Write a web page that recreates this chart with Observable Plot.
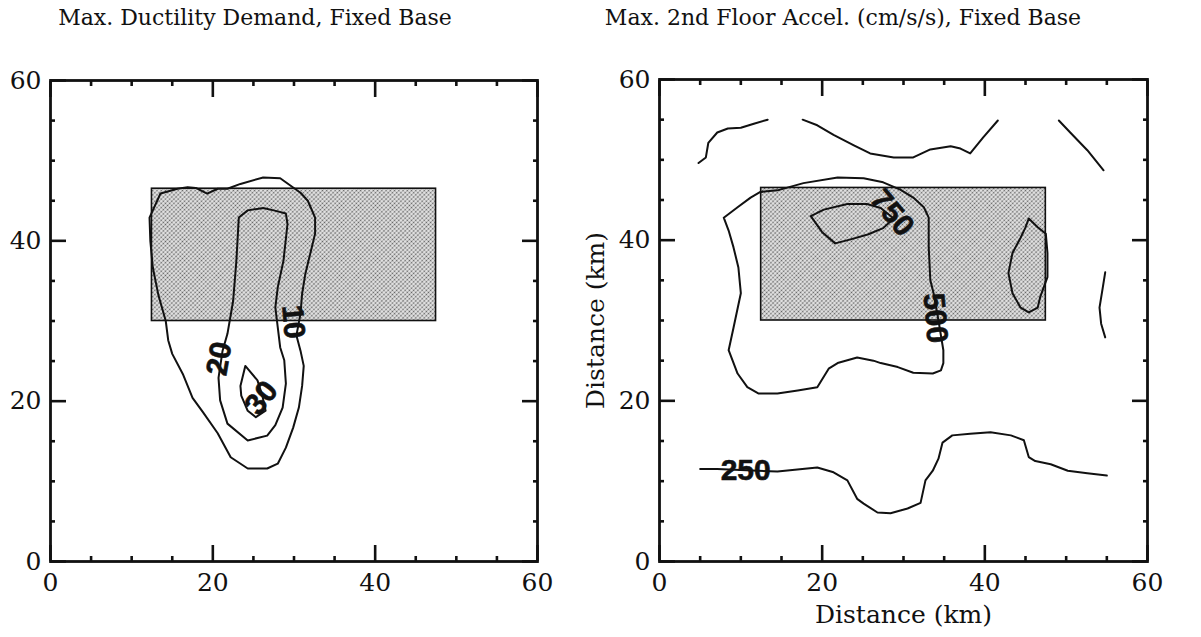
<!DOCTYPE html>
<html><head><meta charset="utf-8">
<script src="https://cdn.jsdelivr.net/npm/d3@7"></script>
<script src="https://cdn.jsdelivr.net/npm/@observablehq/plot@0.6"></script>
<style>
body{margin:0;background:#fff;width:1201px;height:637px;overflow:hidden;position:relative;font-family:"DejaVu Serif",serif;color:#111;}
.title{position:absolute;font-size:22px;white-space:nowrap;transform:translateX(-50%);line-height:1;}
.panel{position:absolute;}
</style></head><body>
<svg width="0" height="0" style="position:absolute"><defs>
<pattern id="stipple" width="3" height="3" patternUnits="userSpaceOnUse" patternTransform="rotate(45)">
<rect width="3" height="3" fill="#e8e8e8"/><circle cx="1.5" cy="1.5" r="0.88" fill="#606060"/></pattern></defs></svg>
<div class="title" style="left:255px;top:7px">Max. Ductility Demand, Fixed Base</div>
<div class="title" style="left:843px;top:7px">Max. 2nd Floor Accel. (cm/s/s), Fixed Base</div>
<div id="left" class="panel" style="left:0;top:40px"></div>
<div id="right" class="panel" style="left:580px;top:40px"></div>
<script>
// ---- axis ticks (km) ----
const majorTicks = [0, 20, 40, 60];
const minorTicks = [5, 10, 15, 25, 30, 35, 45, 50, 55];
const axisTitle = "Distance (km)";

// ---- shaded source area (km) ----
const rectX = [12.5, 47.5];
const rectY = [30, 46.5];

// ---- left panel: ductility demand contours ----
const ductility10 = [[12.2,42.9],[13.55,45.9],[15.65,46.5],[16.9,46.7],[17.9,46.6],[19.3,45.9],[20.6,46.5],[21.8,46.5],[23.4,47.1],[26.2,47.9],[28.3,47.8],[30.8,46.0],[31.7,45.0],[32.6,42.9],[32.6,40.9],[32.0,38.4],[31.4,35.9],[31.0,33.4],[30.8,30.9],[30.3,28.2],[30.8,26.3],[31.2,24.4],[31.0,21.9],[30.6,19.2],[29.9,16.7],[29.0,14.2],[28.0,12.2],[26.7,11.6],[24.3,11.6],[22.2,13.0],[20.6,16.0],[18.8,18.6],[17.5,20.4],[16.3,23.4],[15.0,25.9],[14.5,27.6],[14.2,30.0],[13.3,33.2],[12.6,36.7],[12.3,40.0]];
const ductility20 = [[23.2,42.9],[24.3,43.8],[26.2,44.1],[27.5,43.8],[29.0,43.4],[29.2,42.1],[28.7,37.5],[28.0,34.2],[27.7,31.7],[28.0,29.2],[28.3,26.7],[28.8,25.1],[29.0,22.2],[28.6,19.2],[27.7,17.0],[26.7,15.7],[24.3,15.1],[21.8,17.2],[20.9,20.1],[20.7,22.9],[21.2,26.3],[21.8,28.4],[22.5,32.5],[22.9,37.5]];
const ductility30 = [[24.0,24.4],[25.5,22.6],[26.1,20.7],[26.5,18.8],[25.3,18.0],[24.3,18.8],[23.5,20.7],[23.4,21.9]];
const ductLabelText = ["10", "20", "30"];
const ductLabelX = [29.9, 20.8, 26.0];
const ductLabelY = [29.9, 25.3, 20.4];
const ductLabelAngle = [85, -80, -52];

// ---- right panel: 2nd floor acceleration contours ----
const accelTopLeft = [[4.8,49.6],[5.7,50.3],[6.0,52.1],[7.1,53.4],[8.4,53.9],[10.0,54.0],[11.6,54.5],[13.3,55.0]];
const accelTopMid = [[17.6,55.0],[19.4,54.3],[21.4,53.1],[23.9,51.8],[25.9,50.8],[28.8,50.3],[31.2,50.3],[33.3,51.3],[35.8,51.7],[37.0,51.4],[38.2,50.8],[39.8,52.8],[41.6,54.9]];
const accelTopRight = [[49.1,54.9],[50.5,53.4],[52.6,51.2],[54.6,48.7]];
const accelRightEdge = [[54.8,36.0],[54.5,34.1],[54.1,31.6],[54.3,29.6],[54.8,27.9]];
const accel500 = [[7.9,42.8],[9.6,44.1],[11.2,45.3],[12.4,46.0],[14.5,46.2],[17.7,47.1],[21.9,47.8],[25.1,47.7],[27.5,47.2],[29.6,46.3],[31.2,45.3],[32.5,44.1],[33.1,42.8],[33.1,39.1],[33.3,35.0],[33.7,33.4],[34.3,30.0],[34.9,26.3],[34.9,24.7],[34.6,23.8],[33.6,23.4],[31.2,23.5],[29.3,24.2],[27.2,24.7],[26.3,25.0],[24.3,25.4],[21.9,24.7],[20.8,24.0],[19.4,21.7],[17.0,21.3],[14.5,20.9],[12.2,20.9],[10.8,21.7],[9.6,23.4],[8.5,26.3],[9.1,29.1],[10.0,33.4],[9.7,36.6],[9.1,39.1],[8.5,41.2]];
const accel750 = [[18.6,43.0],[20.2,43.8],[23.1,44.5],[25.5,44.5],[27.2,44.0],[28.8,42.7],[27.5,41.5],[25.6,40.7],[23.5,40.1],[21.6,39.6],[20.0,41.0]];
const accelRightLoop = [[45.4,42.7],[46.5,41.6],[47.5,40.8],[47.7,38.4],[47.7,35.4],[46.8,32.9],[46.5,31.6],[45.4,31.0],[44.4,31.6],[43.4,33.4],[42.9,35.9],[43.4,38.4],[44.4,40.3],[45.0,41.6]];
const accelBottom250 = [[5.0,11.5],[7.1,11.5],[14.5,11.2],[19.4,11.7],[21.4,11.1],[23.1,10.1],[24.3,7.8],[25.1,7.2],[26.8,6.1],[28.4,6.0],[30.5,6.6],[32.1,7.3],[32.7,10.1],[33.6,11.3],[34.3,12.8],[34.8,14.8],[36.0,15.7],[38.2,15.9],[40.7,16.1],[43.2,15.7],[44.8,15.1],[45.4,13.0],[46.2,12.5],[48.1,12.1],[50.2,11.3],[52.6,11.0],[55.0,10.7]];
const accelLabelText = ["750", "500", "250"];
const accelLabelX = [28.6, 33.9, 10.6];
const accelLabelY = [43.4, 30.3, 11.3];
const accelLabelAngle = [50, 85, 0];

// ---- helpers ----
const areaTable = [{x1: rectX[0], x2: rectX[1], y1: rectY[0], y2: rectY[1]}];
const labelTable = (t, xs, ys, as) => t.map((s, i) => ({text: s, x: xs[i], y: ys[i], a: as[i]}));
const lineOpts = {x: d => d[0], y: d => d[1], stroke: "#111", strokeWidth: 2};

function frameMarks() {
  const m = [];
  for (const anchor of ["bottom", "top"]) {
    m.push(Plot.axisX(majorTicks, {anchor, tickSize: -16, fill: "none", strokeWidth: 2.6, label: null}));
    m.push(Plot.axisX(minorTicks, {anchor, tickSize: -5, fill: "none", strokeWidth: 2.6, label: null}));
  }
  for (const anchor of ["left", "right"]) {
    m.push(Plot.axisY(majorTicks, {anchor, tickSize: -16, fill: "none", strokeWidth: 2.6, label: null}));
    m.push(Plot.axisY(minorTicks, {anchor, tickSize: -5, fill: "none", strokeWidth: 2.6, label: null}));
  }
  m.push(Plot.axisX(majorTicks, {anchor: "bottom", tickSize: 0, tickPadding: 12, label: null, fill: "#111"}));
  m.push(Plot.axisY(majorTicks, {anchor: "left", tickSize: 0, tickPadding: 9, label: null, fill: "#111"}));
  m.push(Plot.frame({stroke: "#111", strokeWidth: 2.8}));
  return m;
}

const common = {
  x: {domain: [0, 60]},
  y: {domain: [0, 60]},
  style: {fontFamily: "DejaVu Serif", fontSize: "25px", background: "transparent", color: "#111", overflow: "visible"}
};

const labelFont = {fontFamily: "Liberation Sans", fontWeight: "bold", fontSize: 30, fill: "#111", stroke: "#111", strokeWidth: 0.6, letterSpacing: 2.5};

const left = Plot.plot({
  ...common,
  width: 580, height: 570,
  marginLeft: 50, marginRight: 43, marginTop: 40, marginBottom: 49,
  marks: [
    Plot.rect(areaTable, {x1: "x1", x2: "x2", y1: "y1", y2: "y2", fill: "url(#stipple)", stroke: "#111", strokeWidth: 1.6}),
    Plot.line(ductility10, {...lineOpts, curve: "linear-closed"}),
    Plot.line(ductility20, {...lineOpts, curve: "linear-closed"}),
    Plot.line(ductility30, {...lineOpts, curve: "linear-closed"}),
    Plot.text(labelTable(ductLabelText, ductLabelX, ductLabelY, ductLabelAngle), {x: "x", y: "y", text: "text", rotate: "a", ...labelFont}),
    ...frameMarks()
  ]
});
document.getElementById("left").appendChild(left);

const right = Plot.plot({
  ...common,
  width: 621, height: 597,
  marginLeft: 79, marginRight: 54, marginTop: 39, marginBottom: 76,
  marks: [
    Plot.rect(areaTable, {x1: "x1", x2: "x2", y1: "y1", y2: "y2", fill: "url(#stipple)", stroke: "#111", strokeWidth: 1.6}),
    Plot.line(accelTopLeft, lineOpts),
    Plot.line(accelTopMid, lineOpts),
    Plot.line(accelTopRight, lineOpts),
    Plot.line(accelRightEdge, lineOpts),
    Plot.line(accel500, {...lineOpts, curve: "linear-closed"}),
    Plot.line(accel750, {...lineOpts, curve: "linear-closed"}),
    Plot.line(accelRightLoop, {...lineOpts, curve: "linear-closed"}),
    Plot.line(accelBottom250, lineOpts),
    Plot.text(labelTable(accelLabelText, accelLabelX, accelLabelY, accelLabelAngle), {x: "x", y: "y", text: "text", rotate: "a", ...labelFont}),
    ...frameMarks(),
    Plot.text([axisTitle], {frameAnchor: "bottom", dy: 61, lineAnchor: "bottom", textAnchor: "middle", fontSize: 25, fill: "#111"}),
    Plot.text([axisTitle], {frameAnchor: "left", dx: -56, rotate: -90, lineAnchor: "bottom", textAnchor: "middle", fontSize: 25, fill: "#111"})
  ]
});
document.getElementById("right").appendChild(right);
</script>
</body></html>
